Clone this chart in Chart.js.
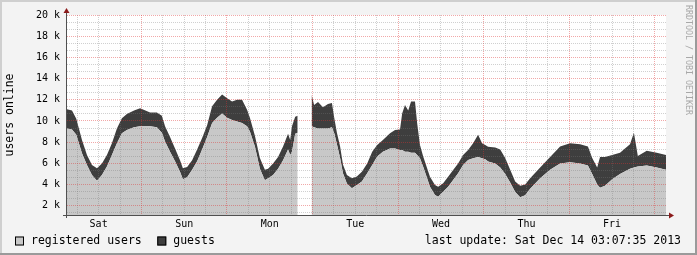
<!DOCTYPE html>
<html>
<head>
<meta charset="utf-8">
<script src="https://cdn.jsdelivr.net/npm/chart.js@4.4.0/dist/chart.umd.min.js"></script>
<style>
body { margin: 0; background: #f3f3f3; }
canvas { display: block; }
</style>
</head>
<body>
<canvas id="myChart" width="697" height="255"></canvas>
<script>
// hours since Sat Dec 7 03:07:35 2013 (one week up to the last update)
const hours = [0, 1.4, 2.6, 4.2, 5.6, 7.0, 8.4, 9.8, 11.2, 12.6, 14.0, 15.4, 16.8, 18.8, 20.5, 23.3, 25.2, 26.6, 27.5, 28.9,
  30.3, 31.7, 32.5, 33.7, 35.1, 36.5, 37.9, 39.3, 40.7, 42.1, 43.5, 44.9, 46.3, 47.7, 49.1, 50.5, 51.3, 52.7, 54.1, 55.5,
  56.4, 57.8, 59.2, 60.6, 62.0, 62.6, 63.1, 64.0, 64.7, 66.5, 68.6, 69.3, 70.4, 71.8, 73.2, 74.3, 75.0, 75.7, 76.6, 77.4,
  78.5, 79.9, 81.3, 82.7, 84.2, 85.6, 87.0, 88.6, 90.6, 92.0, 93.4, 94.0, 94.8, 95.7, 96.5, 97.6, 98.2, 99.0, 99.9, 101.0,
  101.8, 103.2, 104.1, 105.5, 106.9, 108.3, 109.7, 111.1, 112.5, 113.9, 115.3, 116.4, 117.3, 118.1, 120.1, 121.5, 122.9, 124.3, 125.7, 127.1,
  128.5, 129.9, 132.7, 135.5, 138.3, 141.1, 143.9, 146.1, 147.3, 148.7, 149.5, 150.9, 152.9, 155.1, 157.9, 159.0, 160.1, 162.6, 165.4, 168.0];

const registered = [9300, 9200, 8700, 6950, 5850, 4900, 4370, 4900, 5700, 6800, 7900, 8840, 9160, 9400, 9500, 9500, 9400, 8900, 8060, 7100,
  6200, 5200, 4500, 4700, 5400, 6200, 7300, 8500, 9800, 10300, 10700, 10300, 10100, 9950, 9800, 9500, 9000, 7600, 5500, 4400,
  4600, 4900, 5500, 6300, 7300, 6800, 7100, 8800, 8900, null, 9500, 9400, 9300, 9300, 9300, 9400, 8800, 7800, 6500, 5060,
  4100, 3650, 3960, 4300, 5060, 5850, 6640, 7100, 7400, 7400, 7270, 7270, 7100, 7100, 7000, 7000, 6800, 6480, 5690, 4600,
  3800, 3020, 2860, 3330, 3800, 4430, 5060, 5850, 6320, 6480, 6600, 6480, 6400, 6170, 6000, 5600, 5000, 4200, 3300, 2800,
  3000, 3600, 4600, 5400, 6000, 6100, 6000, 5800, 5000, 4000, 3700, 3900, 4500, 5000, 5500, 5600, 5700, 5800, 5600, 5400];

const guests = [1800, 1800, 1500, 1250, 950, 950, 1170, 1100, 1100, 1100, 1400, 1420, 1510, 1600, 1700, 1300, 1400, 1600, 1440, 1400,
  1200, 1100, 1050, 950, 900, 1100, 1100, 1100, 1600, 1700, 1800, 1850, 1750, 2050, 2200, 1550, 1300, 1000, 1000, 1000,
  900, 1100, 1100, 1300, 1500, 1400, 2400, 1600, 1600, null, 3000, 2100, 2500, 2000, 2300, 2300, 1400, 1100, 1100, 840,
  800, 950, 800, 900, 940, 1250, 1100, 1100, 1440, 1760, 1930, 3430, 4400, 3900, 4840, 4840, 3000, 1260, 950, 940,
  950, 940, 940, 790, 950, 950, 940, 950, 950, 1420, 2100, 1420, 1340, 1410, 1500, 1700, 1500, 1200, 1000, 1100,
  1000, 1000, 1000, 1200, 1600, 1800, 1800, 1800, 1500, 1600, 2900, 2700, 2300, 2000, 2300, 3300, 1000, 1400, 1400, 1400];

const dayLabels = ['Sat', 'Sun', 'Mon', 'Tue', 'Wed', 'Thu', 'Fri'];
const noonHours = [8.87, 32.87, 56.87, 80.87, 104.87, 128.87, 152.87];
const midnightHours = [20.87, 44.87, 68.87, 92.87, 116.87, 140.87, 164.87];
const yTicks = [2000, 4000, 6000, 8000, 10000, 12000, 14000, 16000, 18000, 20000];

const Y_MIN = 1130;
const MGRID = 'rgba(222, 48, 48, 0.42)';
const GRID = 'rgba(120, 120, 120, 0.35)';

const near = (list, v) => list.findIndex(t => Math.abs(t - v) < 0.01);

// 6 hour grid lines, red ones at midnight
let xGrid = [];
midnightHours.forEach(m => { xGrid.push(m - 18, m - 12, m - 6, m); });
// 3 minor lines per 2 k
let yGrid = [];
yTicks.forEach(v => { yGrid.push(v - 4000 / 3, v - 2000 / 3, v); });
yGrid = yGrid.filter(v => v >= Y_MIN);

const mono = 'DejaVu Sans Mono';
Chart.defaults.font.family = mono;
Chart.defaults.color = '#000';

// BACKGROUND, FRAME, AXES, LEGEND
const rrdLook = {
  id: 'rrdLook',
  beforeDraw(chart) {
    const {ctx, chartArea: a, width, height} = chart;
    ctx.save();
    ctx.fillStyle = '#f3f3f3';
    ctx.fillRect(0, 0, width, height);
    ctx.fillStyle = '#cfcfcf';
    ctx.fillRect(0, 0, width, 2);
    ctx.fillRect(0, 0, 2, height);
    ctx.fillStyle = '#9a9a9a';
    ctx.fillRect(0, height - 2, width, 2);
    ctx.fillRect(width - 2, 0, 2, height);
    ctx.fillStyle = '#fff';
    ctx.fillRect(a.left, a.top, a.right - a.left, a.bottom - a.top);
    ctx.restore();
  },
  afterDraw(chart) {
    const {ctx, chartArea: a} = chart;
    ctx.save();
    // axes
    ctx.strokeStyle = '#505050';
    ctx.lineWidth = 1;
    ctx.beginPath();
    ctx.moveTo(a.left - 4, a.bottom + 0.5);
    ctx.lineTo(a.right + 4, a.bottom + 0.5);
    ctx.moveTo(a.left - 0.5, a.bottom + 3);
    ctx.lineTo(a.left - 0.5, a.top - 4);
    ctx.stroke();
    // arrows
    ctx.fillStyle = '#8b1a1a';
    ctx.beginPath();
    ctx.moveTo(a.right + 3, a.bottom - 2.5);
    ctx.lineTo(a.right + 8, a.bottom + 0.5);
    ctx.lineTo(a.right + 3, a.bottom + 3.5);
    ctx.fill();
    ctx.beginPath();
    ctx.moveTo(a.left - 3.5, a.top - 2);
    ctx.lineTo(a.left - 0.5, a.top - 7);
    ctx.lineTo(a.left + 2.5, a.top - 2);
    ctx.fill();

    // legend
    ctx.font = '11.5px ' + mono;
    ctx.textBaseline = 'middle';
    let x = 15;
    const y = 241;
    chart.data.datasets.forEach(ds => {
      ctx.fillStyle = ds.backgroundColor;
      ctx.fillRect(x, y - 4.5, 9, 9);
      ctx.strokeStyle = '#000';
      ctx.strokeRect(x + 0.5, y - 4, 8, 8);
      ctx.fillStyle = '#000';
      ctx.textAlign = 'left';
      ctx.fillText(ds.label, x + 16, y);
      x += 16 + ctx.measureText(ds.label).width + 15.5;
    });
    ctx.textAlign = 'right';
    ctx.fillText('last update: Sat Dec 14 03:07:35 2013', 681, y);

    // side note
    ctx.translate(688, 5);
    ctx.rotate(Math.PI / 2);
    ctx.font = '8.3px ' + mono;
    ctx.fillStyle = '#a8a8a8';
    ctx.textAlign = 'left';
    ctx.textBaseline = 'middle';
    ctx.fillText('RRDTOOL / TOBI OETIKER', 0, 0);
    ctx.restore();
  }
};

let myChart = document.getElementById('myChart').getContext('2d');
window.bar = new Chart(myChart, {
  type: 'line',
  data: {
    datasets: [{
      label: 'registered users',
      data: hours.map((h, i) => ({x: h, y: registered[i]})),
      backgroundColor: '#c8c8c8',
      borderColor: 'rgba(0,0,0,0)',
      borderWidth: 0,
      pointRadius: 0,
      fill: 'start'
    }, {
      label: 'guests',
      data: hours.map((h, i) => ({x: h, y: guests[i]})),
      backgroundColor: '#3e3e3e',
      borderColor: 'rgba(0,0,0,0)',
      borderWidth: 0,
      pointRadius: 0,
      fill: '-1'
    }]
  },
  options: {
    responsive: false,
    animation: false,
    events: [],
    layout: { padding: { left: 0, top: 15, right: 31, bottom: 0 } },
    plugins: {
      legend: { display: false },
      tooltip: { enabled: false }
    },
    scales: {
      x: {
        type: 'linear',
        min: 0,
        max: 168,
        afterBuildTicks: s => { s.ticks = xGrid.map(v => ({value: v})); },
        afterFit: s => { s.height = 40; },
        grid: {
          z: 1,
          drawTicks: false,
          color: c => near(midnightHours, c.tick.value) >= 0 ? MGRID : GRID
        },
        border: { display: false, dash: [1, 1] },
        ticks: {
          autoSkip: false,
          maxRotation: 0,
          padding: 3,
          font: { size: 10 },
          callback: v => {
            const i = near(noonHours, v);
            return i >= 0 ? dayLabels[i] : '';
          }
        }
      },
      y: {
        stacked: true,
        min: Y_MIN,
        max: 20000,
        afterBuildTicks: s => { s.ticks = yGrid.map(v => ({value: v})); },
        afterFit: s => { s.width = 67; },
        grid: {
          z: 1,
          drawTicks: false,
          color: c => near(yTicks, c.tick.value) >= 0 ? MGRID : GRID
        },
        border: { display: false, dash: [1, 1] },
        title: {
          display: true,
          text: 'users online',
          font: { size: 11.5 },
          padding: { top: 3, bottom: 0 }
        },
        ticks: {
          autoSkip: false,
          padding: 7,
          font: { size: 10 },
          callback: v => near(yTicks, v) >= 0 ? (Math.round(v / 1000)) + ' k' : ''
        }
      }
    }
  },
  plugins: [rrdLook]
});
</script>
</body>
</html>
